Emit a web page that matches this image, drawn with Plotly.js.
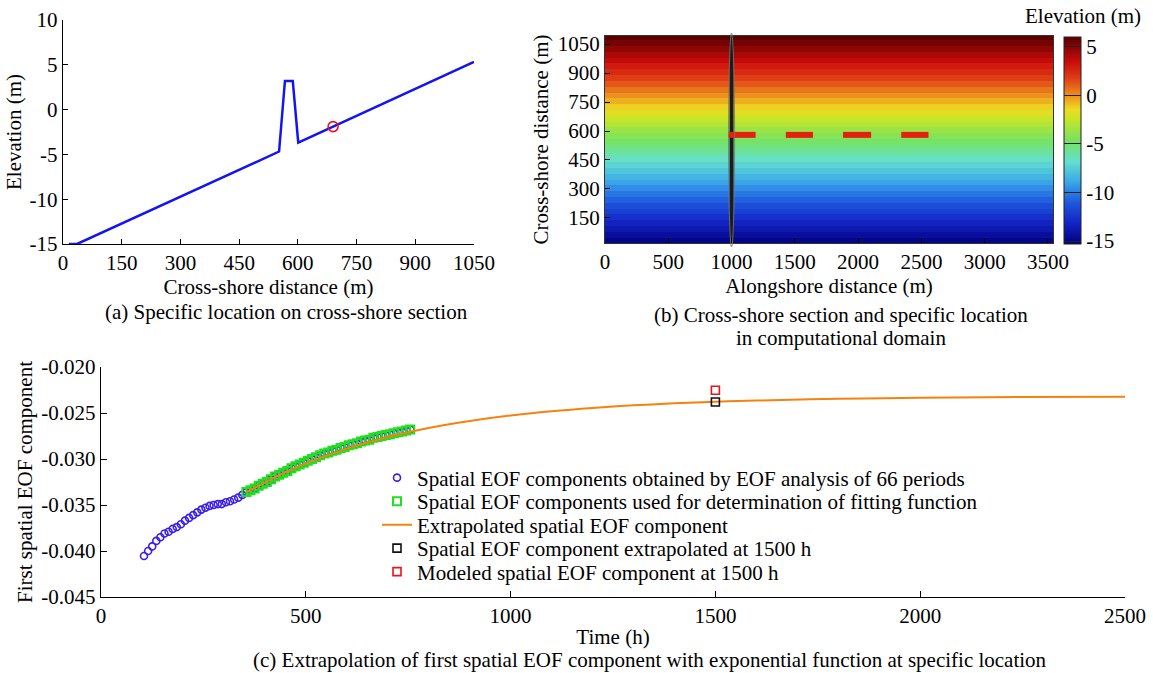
<!DOCTYPE html>
<html><head><meta charset="utf-8">
<script src="https://cdn.plot.ly/plotly-3.0.1.min.js"></script>
<style>html,body{margin:0;padding:0;background:#fff}#chart{width:1153px;height:673px}</style>
</head><body><div id="chart"></div><script>
// ---------- data ----------
// (a) cross-shore profile
const profileX = [15, 36, 552, 567, 587, 601, 1050];
const profileZ = [-15, -15, -4.68, 3.2, 3.2, -3.68, 5.32];
const locX = [690];
const locZ = [-1.9];
const aXTicks = [0, 150, 300, 450, 600, 750, 900, 1050];
const aYTicks = [-15, -10, -5, 0, 5, 10];
const aYText = ['-15', '-10', '-5', '0', '5', '10'];

// (b) computational domain
const alongExtent = [0, 3540];
const crossRows = [35, 65, 95, 125, 155, 185, 215, 245, 275, 305, 335, 365, 395, 425, 455, 485, 515, 545,
  575, 605, 635, 665, 695, 725, 755, 785, 815, 845, 875, 905, 935, 965, 995, 1025, 1055, 1085];
const rowElev = [-15.0, -14.42, -13.82, -13.22, -12.62, -12.02, -11.42, -10.82, -10.22, -9.62, -9.02, -8.42,
  -7.82, -7.22, -6.62, -6.02, -5.42, -4.82, -4.22, -3.62, -3.02, -2.42, -1.82, -1.22, -0.62, -0.02,
  0.58, 1.18, 1.78, 2.38, 2.98, 3.58, 4.18, 4.78, 5.38, 5.98];
const sectionX = [1000, 1000];
const sectionY = [20, 1092];
const bwStart = [975, 1429, 1881, 2341];
const bwEnd = [1190, 1643, 2103, 2556];
const bwCross = 580;
const bXTicks = [0, 500, 1000, 1500, 2000, 2500, 3000, 3500];
const bYTicks = [150, 300, 450, 600, 750, 900, 1050];
const cbTicks = [-15, -10, -5, 0, 5];
const cbText = ['-15', '-10', '-5', '0', '5'];
const jetLike = [
  [0.00, 'rgb(0,0,128)'], [0.10, 'rgb(18,36,196)'], [0.20, 'rgb(30,88,222)'], [0.30, 'rgb(58,168,232)'],
  [0.40, 'rgb(100,224,205)'], [0.50, 'rgb(118,226,96)'], [0.60, 'rgb(196,230,42)'], [0.65, 'rgb(238,220,32)'],
  [0.72, 'rgb(236,142,30)'], [0.80, 'rgb(222,62,22)'], [0.88, 'rgb(202,12,10)'], [1.00, 'rgb(90,0,0)']
];

// (c) EOF components
const eofTime = [105, 115, 125, 135, 145, 155, 165, 175, 185, 195, 205, 215, 225, 235, 245, 255, 265, 275,
  285, 295, 305, 315, 325, 335, 345, 355, 365, 375, 385, 395, 405, 415, 425, 435, 445, 455, 465, 475,
  485, 495, 505, 515, 525, 535, 545, 555, 565, 575, 585, 595, 605, 615, 625, 635, 645, 655, 665, 675,
  685, 695, 705, 715, 725, 735, 745, 755];
const eofValue = [-0.04054, -0.0400, -0.0395, -0.0389, -0.0385, -0.0381, -0.0379, -0.0376, -0.0374, -0.0371,
  -0.0367, -0.0364, -0.0361, -0.0358, -0.0355, -0.0353, -0.0351, -0.0350, -0.0349, -0.0349, -0.0347,
  -0.0346, -0.0344, -0.0342, -0.0339, -0.0336, -0.0334, -0.0332, -0.0329, -0.0327, -0.0325, -0.0322,
  -0.0319, -0.0317, -0.0315, -0.0313, -0.0310, -0.0308, -0.0306, -0.0304, -0.0302, -0.0300, -0.0298,
  -0.0296, -0.0294, -0.0293, -0.0291, -0.0290, -0.0288, -0.0287, -0.0285, -0.0284, -0.0283, -0.0281,
  -0.0280, -0.0279, -0.0277, -0.0276, -0.0275, -0.0274, -0.0273, -0.0272, -0.0271, -0.0270, -0.0269, -0.0268];
const fitStartIndex = 25; // first period used for fitting (t = 355 h)
const extrapTime = [355, 400, 450, 500, 600, 700, 800, 900, 1000, 1100, 1200, 1300, 1400, 1500, 1600,
  1800, 2000, 2250, 2500];
const extrapValue = [-0.0336, -0.03256, -0.03146, -0.03048, -0.02887, -0.02761, -0.02663, -0.02587,
  -0.02527, -0.02481, -0.02445, -0.02417, -0.02395, -0.02378, -0.02365, -0.02346, -0.02335, -0.02327, -0.02323];
const extrap1500T = [1500];
const extrap1500V = [-0.0238];
const model1500T = [1500];
const model1500V = [-0.02253];
const cXTicks = [0, 500, 1000, 1500, 2000, 2500];
const cYTicks = [-0.045, -0.040, -0.035, -0.030, -0.025, -0.020];
const cYText = ['-0.045', '-0.040', '-0.035', '-0.030', '-0.025', '-0.020'];
const legendNames = [
  'Spatial EOF components obtained by EOF analysis of 66 periods',
  'Spatial EOF components used for determination of fitting function',
  'Extrapolated spatial EOF component',
  'Spatial EOF component extrapolated at 1500 h',
  'Modeled spatial EOF component at 1500 h'
];

// ---------- layout helpers ----------
const W = 1153, H = 673;
const px = v => v / W;
const py = v => 1 - v / H;
const FONT = '"Liberation Serif", "Times New Roman", serif';
const FS = 21;
const f = s => ({family: FONT, size: s, color: '#000'});

const baseAxis = {
  showline: true, linecolor: '#000', linewidth: 1.2, ticks: 'inside', ticklen: 5,
  tickcolor: '#000', showgrid: false, zeroline: false, tickmode: 'array', fixedrange: true
};

const traces = [
  {type: 'scatter', mode: 'lines', x: profileX, y: profileZ, xaxis: 'x', yaxis: 'y',
   line: {color: '#1414f0', width: 2.5}, showlegend: false, hoverinfo: 'skip'},
  {type: 'scatter', mode: 'markers', x: locX, y: locZ, xaxis: 'x', yaxis: 'y',
   marker: {symbol: 'circle-open', size: 10, color: '#e8141c', line: {width: 1.6, color: '#e8141c'}},
   showlegend: false},
  {type: 'heatmap', x: alongExtent, y: crossRows, z: rowElev.map(e => [e, e]), xaxis: 'x2', yaxis: 'y2',
   colorscale: jetLike, zmin: -15.3, zmax: 6, zsmooth: false, showlegend: false,
   colorbar: {x: px(1064), xanchor: 'left', thickness: 17, thicknessmode: 'pixels',
     len: 207, lenmode: 'pixels', y: py(140.5), yanchor: 'middle', xpad: 0, ypad: 0,
     outlinewidth: 1, outlinecolor: '#222', tickmode: 'array', tickvals: cbTicks, ticktext: cbText,
     ticks: 'inside', ticklen: 17, tickcolor: '#222', tickfont: f(FS)}},
  {type: 'scatter', mode: 'lines', x: sectionX, y: sectionY, xaxis: 'x2', yaxis: 'y2',
   line: {color: '#1c1c1c', width: 4}, showlegend: false, hoverinfo: 'skip'},
  {type: 'scatter', mode: 'lines', xaxis: 'x2', yaxis: 'y2', showlegend: false, hoverinfo: 'skip',
   x: bwStart.flatMap((s, i) => [s, bwEnd[i], null]),
   y: bwStart.flatMap(() => [bwCross, bwCross, null]),
   line: {color: '#e4200e', width: 6}},
  {type: 'scatter', mode: 'markers', x: eofTime, y: eofValue, xaxis: 'x3', yaxis: 'y3',
   name: legendNames[0], legend: 'legend',
   marker: {symbol: 'circle-open', size: 7, color: '#3a1fe6', line: {width: 1.6, color: '#3a1fe6'}}},
  {type: 'scatter', mode: 'markers', x: eofTime.slice(fitStartIndex), y: eofValue.slice(fitStartIndex),
   xaxis: 'x3', yaxis: 'y3', name: legendNames[1], legend: 'legend2',
   marker: {symbol: 'square-open', size: 8, color: '#22e01e', line: {width: 2, color: '#22e01e'}}},
  {type: 'scatter', mode: 'lines', x: extrapTime, y: extrapValue, xaxis: 'x3', yaxis: 'y3',
   name: legendNames[2], legend: 'legend3', line: {color: '#f5820f', width: 2, shape: 'spline'}},
  {type: 'scatter', mode: 'markers', x: extrap1500T, y: extrap1500V, xaxis: 'x3', yaxis: 'y3',
   name: legendNames[3], legend: 'legend4',
   marker: {symbol: 'square-open', size: 8, color: '#111', line: {width: 1.6, color: '#111'}}},
  {type: 'scatter', mode: 'markers', x: model1500T, y: model1500V, xaxis: 'x3', yaxis: 'y3',
   name: legendNames[4], legend: 'legend5',
   marker: {symbol: 'square-open', size: 8, color: '#e8141c', line: {width: 1.6, color: '#e8141c'}}}
];

const legendRows = [478, 501.5, 525, 548.5, 572];
const mkLegend = rowY => ({x: px(377), y: py(rowY), xanchor: 'left', yanchor: 'middle',
  bgcolor: 'rgba(0,0,0,0)', borderwidth: 0, font: f(FS), itemwidth: 30});

const layout = {
  width: W, height: H, margin: {l: 0, r: 0, t: 0, b: 0},
  paper_bgcolor: '#fff', plot_bgcolor: 'rgba(0,0,0,0)',
  font: f(FS), showlegend: true,
  xaxis: Object.assign({}, baseAxis, {domain: [px(63), px(474)], range: [0, 1050], anchor: 'y',
    tickvals: aXTicks, tickfont: f(FS),
    title: {text: 'Cross-shore distance (m)', font: f(FS), standoff: 2}}),
  yaxis: Object.assign({}, baseAxis, {domain: [py(244), py(20)], range: [-15, 10], anchor: 'x',
    tickvals: aYTicks, ticktext: aYText, tickfont: f(FS),
    title: {text: 'Elevation (m)', font: f(FS), standoff: 2}}),
  xaxis2: Object.assign({}, baseAxis, {domain: [px(605), px(1053)], range: alongExtent, anchor: 'y2',
    tickvals: bXTicks, tickfont: f(FS), mirror: true, linecolor: '#333', linewidth: 1,
    title: {text: 'Alongshore distance (m)', font: f(FS), standoff: 2}}),
  yaxis2: Object.assign({}, baseAxis, {domain: [py(243), py(36)], range: [20, 1092], anchor: 'x2',
    tickvals: bYTicks, tickfont: f(FS), mirror: true, linecolor: '#333', linewidth: 1,
    title: {text: 'Cross-shore distance (m)', font: f(FS), standoff: 3}}),
  xaxis3: Object.assign({}, baseAxis, {domain: [px(101), px(1125)], range: [0, 2500], anchor: 'y3',
    tickvals: cXTicks, ticklen: 6, tickfont: f(FS),
    title: {text: 'Time (h)', font: f(FS), standoff: 1}}),
  yaxis3: Object.assign({}, baseAxis, {domain: [py(597), py(367)], range: [-0.045, -0.020], anchor: 'x3',
    tickvals: cYTicks, ticktext: cYText, ticklen: 6, tickfont: f(FS),
    title: {text: 'First spatial EOF component', font: f(FS), standoff: 3}}),
  legend: mkLegend(legendRows[0]),
  legend2: mkLegend(legendRows[1]),
  legend3: mkLegend(legendRows[2]),
  legend4: mkLegend(legendRows[3]),
  legend5: mkLegend(legendRows[4]),
  shapes: [
    {type: 'circle', xref: 'x2', yref: 'paper', x0: 976, x1: 1024, y0: py(247), y1: py(33),
     line: {color: 'rgba(120,120,120,0.85)', width: 1}}
  ],
  annotations: [
    {text: '(a) Specific location on cross-shore section', x: px(286), y: py(312), xref: 'paper', yref: 'paper',
     xanchor: 'center', yanchor: 'middle', showarrow: false, font: f(FS)},
    {text: '(b) Cross-shore section and specific location', x: px(841), y: py(315), xref: 'paper', yref: 'paper',
     xanchor: 'center', yanchor: 'middle', showarrow: false, font: f(FS)},
    {text: 'in computational domain', x: px(841), y: py(338), xref: 'paper', yref: 'paper',
     xanchor: 'center', yanchor: 'middle', showarrow: false, font: f(FS)},
    {text: 'Elevation (m)', x: px(1143), y: py(16), xref: 'paper', yref: 'paper',
     xanchor: 'right', yanchor: 'middle', showarrow: false, font: f(FS)},
    {text: '(c) Extrapolation of first spatial EOF component with exponential function at specific location',
     x: px(650), y: py(660), xref: 'paper', yref: 'paper',
     xanchor: 'center', yanchor: 'middle', showarrow: false, font: f(FS)}
  ]
};

Plotly.newPlot('chart', traces, layout, {displayModeBar: false, staticPlot: true});
</script></body></html>
